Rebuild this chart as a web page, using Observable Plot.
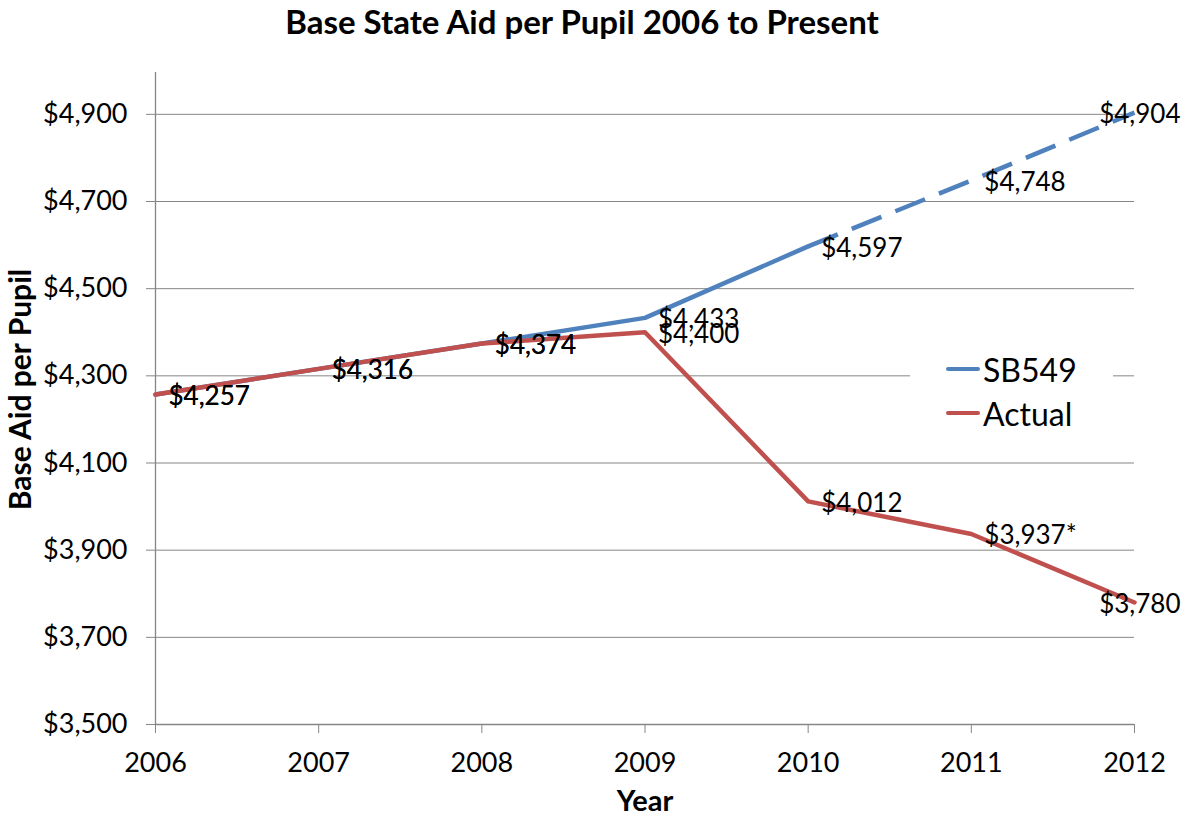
<!DOCTYPE html>
<html>
<head>
<meta charset="utf-8">
<script src="https://cdn.jsdelivr.net/npm/d3@7"></script>
<script src="https://cdn.jsdelivr.net/npm/@observablehq/plot@0.6"></script>
<style>
  html, body { margin: 0; padding: 0; background: #fff; }
  #wrap { position: relative; width: 1190px; height: 818px; font-family: Lato, "Open Sans", sans-serif; }
  #title { position: absolute; left: 0; top: 1px; width: 1164px; text-align: center; font-weight: bold; font-size: 33px; line-height: 40px; color: #000; }
  #chart { position: absolute; left: 0; top: 50px; }
  #legend { position: absolute; left: 910px; top: 344px; width: 203px; height: 96px; background: #fff; }
  .li { position: absolute; left: 36px; height: 44px; display: flex; align-items: center; font-size: 32px; color: #000; white-space: nowrap; }
  .li span.sw { display: inline-block; width: 34px; height: 4px; border-radius: 2px; margin-right: 3px; }
</style>
</head>
<body>
<div id="wrap">
  <div id="title">Base State Aid per Pupil 2006 to Present</div>
  <div id="chart"></div>
  <div id="legend"></div>
</div>
<script>
const years = [2006, 2007, 2008, 2009, 2010, 2011, 2012];
const sb549 = [4257, 4316, 4374, 4433, 4597, 4748, 4904];
const actual = [4257, 4316, 4374, 4400, 4012, 3937, 3780];
const actualLabels = ["$4,257", "$4,316", "$4,374", "$4,400", "$4,012", "$3,937*", "$3,780"];
const sbLabels = ["$4,257", "$4,316", "$4,374", "$4,433", "$4,597", "$4,748", "$4,904"];
const yTicks = [3500, 3700, 3900, 4100, 4300, 4500, 4700, 4900];
const seriesNames = ["SB549", "Actual"];
const colors = ["#4F81BD", "#C0504D"];

const sbData = years.map((y, i) => ({year: y, value: sb549[i], label: sbLabels[i]}));
const acData = years.map((y, i) => ({year: y, value: actual[i], label: actualLabels[i]}));
const lastYear = years[years.length - 1];
const splitYear = 2010;

const gray = "#868686";
const labelFont = 26;

function labels(data) {
  return [
    Plot.text(data.filter(d => d.year !== lastYear), {x: "year", y: "value", text: "label", textAnchor: "start", dx: 13, dy: 2, fontSize: labelFont, fill: "#000"}),
    Plot.text(data.filter(d => d.year === lastYear), {x: "year", y: "value", text: "label", textAnchor: "end", dx: 46, dy: 2, fontSize: labelFont, fill: "#000"})
  ];
}

const chart = Plot.plot({
  width: 1190,
  height: 768,
  marginLeft: 155,
  marginRight: 56,
  marginTop: 22,
  marginBottom: 94,
  style: {fontFamily: "Lato, 'Open Sans', sans-serif", background: "transparent", overflow: "visible"},
  x: {domain: [2006, 2012]},
  y: {domain: [3500, 4996]},
  marks: [
    Plot.gridY(yTicks, {stroke: gray, strokeOpacity: 1, strokeWidth: 1}),
    Plot.ruleX([2006], {stroke: gray, strokeWidth: 1.3}),
    Plot.ruleY([3500], {stroke: gray, strokeWidth: 1.3}),
    Plot.axisY(yTicks, {tickSize: 9, tickPadding: 19, stroke: gray, fontSize: 27, fill: "#000", tickFormat: d => "$" + d3.format(",")(d), label: null}),
    Plot.axisX(years, {tickSize: 9, tickPadding: 19, stroke: gray, fontSize: 27, fill: "#000", tickFormat: d => String(d), label: null}),
    Plot.line(sbData.filter(d => d.year <= splitYear), {x: "year", y: "value", stroke: colors[0], strokeWidth: 4.5}),
    Plot.line(sbData.filter(d => d.year >= splitYear), {x: "year", y: "value", stroke: colors[0], strokeWidth: 4.5, strokeDasharray: "32,15", strokeLinecap: "butt"}),
    Plot.line(acData, {x: "year", y: "value", stroke: colors[1], strokeWidth: 4.5}),
    ...labels(sbData),
    ...labels(acData),
    Plot.text(["Base Aid per Pupil"], {frameAnchor: "left", textAnchor: "middle", dx: -134, dy: -9, rotate: -90, fontWeight: "bold", fontSize: 30, fill: "#000"}),
    Plot.text(["Year"], {frameAnchor: "bottom", textAnchor: "middle", dy: 86, fontWeight: "bold", fontSize: 29, fill: "#000"})
  ]
});
document.getElementById("chart").appendChild(chart);

const legend = document.getElementById("legend");
seriesNames.forEach((n, i) => {
  const row = document.createElement("div");
  row.className = "li";
  row.style.top = (3 + i * 44) + "px";
  row.innerHTML = `<span class="sw" style="background:${colors[i]}"></span>${n}`;
  legend.appendChild(row);
});
</script>
</body>
</html>
